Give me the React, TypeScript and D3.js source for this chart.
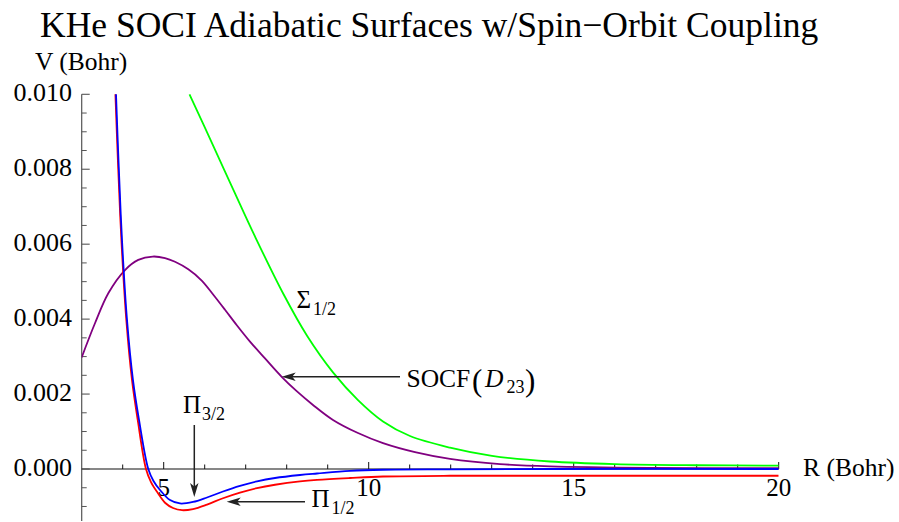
import React from "react";
import * as d3 from "d3";

// ---- data ----
const R_PI32 = [3.837, 3.898, 3.983, 4.105, 4.251, 4.398, 4.624, 4.751, 4.91, 5.154, 5.398, 5.715, 6.056, 6.446, 6.861, 7.276, 7.715, 8.324, 8.739, 9.544, 10.349, 11.983, 14.422, 20];
const V_PI32 = [0.0100, 0.00822, 0.00611, 0.00398, 0.00237, 0.00131, 0.0, -0.00032, -0.00056, -0.00083, -0.00092, -0.00088, -0.00076, -0.00060, -0.00045, -0.00033, -0.00024, -0.00016, -0.00012, -0.00005, -0.00002, -0.00001, 0.0, 0.0];

const R_PI12 = [3.822, 3.883, 3.968, 4.088, 4.227, 4.366, 4.568, 4.69, 4.849, 5.032, 5.227, 5.446, 5.715, 6.056, 6.446, 6.861, 7.276, 7.715, 8.324, 8.739, 9.544, 10.349, 11.983, 14.422, 20];
const V_PI12 = [0.0100, 0.00822, 0.00611, 0.00398, 0.00237, 0.00131, 0.0, -0.00035, -0.00063, -0.00090, -0.00104, -0.00110, -0.00107, -0.00095, -0.00078, -0.00063, -0.00051, -0.00042, -0.00033, -0.00029, -0.00024, -0.00020, -0.00018, -0.00018, -0.00018];

const R_SIG12 = [5.629, 6.22, 6.7, 7.229, 7.92, 8.5, 9.129, 9.739, 10.349, 11.007, 11.983, 13.007, 14.422, 16.007, 18.007, 20];
const V_SIG12 = [0.0100, 0.0086, 0.00745, 0.0062, 0.00467, 0.00355, 0.00258, 0.00184, 0.00127, 0.00088, 0.00057, 0.00035, 0.0002, 0.00013, 0.0001, 0.00009];

const R_SOCF = [3.0, 3.324, 3.649, 4.056, 4.38, 4.732, 5.032, 5.276, 5.6, 5.927, 6.21, 6.495, 6.788, 7.105, 7.471, 7.878, 8.251, 8.641, 9.129, 9.739, 10.349, 11.129, 11.983, 13.202, 14.422, 16.861, 20];
const V_SOCF = [0.00298, 0.00389, 0.00469, 0.00531, 0.00558, 0.00567, 0.00563, 0.00553, 0.00533, 0.00503, 0.00465, 0.00425, 0.00383, 0.0034, 0.00295, 0.00246, 0.00207, 0.00171, 0.00131, 0.00096, 0.00069, 0.00045, 0.00027, 0.00013, 0.00007, 0.00003, 0.00002];

const X_MAJOR = [5, 10, 15, 20];
const X_MINOR = [4, 6, 7, 8, 9, 11, 12, 13, 14, 16, 17, 18, 19];
const Y_MAJOR = [0, 0.002, 0.004, 0.006, 0.008, 0.010];
const Y_MINOR = [-0.001, -0.0005, 0.0005, 0.001, 0.0015, 0.0025, 0.003, 0.0035, 0.0045, 0.005, 0.0055, 0.0065, 0.007, 0.0075, 0.0085, 0.009, 0.0095];

const TITLE = "KHe SOCI Adiabatic Surfaces w/Spin\u2212Orbit Coupling";

const W = 899;
const H = 522;
const FONT = "Liberation Serif";

function arrowHead(tx: number, ty: number, dir: "left" | "down") {
  const L = 14, hw = 4.2, n = 3.5;
  if (dir === "left") {
    return `M${tx},${ty} L${tx + L},${ty - hw} L${tx + L - n},${ty} L${tx + L},${ty + hw} Z`;
  }
  return `M${tx},${ty} L${tx - hw},${ty - L} L${tx},${ty - L + n} L${tx + hw},${ty - L} Z`;
}

export default function App() {
  const x = d3.scaleLinear().domain([3, 20]).range([81.7, 778.7]);
  const y = d3.scaleLinear().domain([0, 0.01]).range([469, 94.3]);

  const line = d3
    .line<[number, number]>()
    .x((d) => x(d[0]))
    .y((d) => y(d[1]))
    .curve(d3.curveCatmullRom.alpha(0.5));

  const zip = (a: number[], b: number[]) => a.map((v, i) => [v, b[i]] as [number, number]);

  const series = [
    { r: R_SOCF, v: V_SOCF, color: "#800080" },
    { r: R_SIG12, v: V_SIG12, color: "#00ff00" },
    { r: R_PI12, v: V_PI12, color: "#ff0000" },
    { r: R_PI32, v: V_PI32, color: "#0000ff" },
  ];

  const axisX = x(3);
  const axisY = y(0);
  const yBottom = y(-0.00139);
  const txt = { fontFamily: FONT };

  return (
    <svg
      width={W}
      height={H}
      style={{ position: "absolute", left: 0, top: 0, background: "#fff", fontFamily: FONT }}
    >
      <defs>
        <clipPath id="plotclip">
          <rect x={x(3)} y={y(0.01) - 1} width={x(20) - x(3)} height={yBottom - y(0.01) + 1} />
        </clipPath>
      </defs>
      <rect x={0} y={0} width={W} height={H} fill="#fff" />

      {/* title */}
      <text x={40} y={37} fontSize={35.5} fill="#000" style={txt}>
        {TITLE}
      </text>

      {/* axes */}
      <line x1={axisX} x2={axisX} y1={y(0.01)} y2={yBottom} stroke="#555" strokeWidth={1.2} />
      <line x1={axisX} x2={x(20)} y1={axisY} y2={axisY} stroke="#111" strokeWidth={1.2} />

      {Y_MAJOR.map((t) => (
        <g key={"ym" + t}>
          <line x1={axisX} x2={axisX + 8} y1={y(t)} y2={y(t)} stroke="#555" strokeWidth={1.1} />
          <text x={72} y={y(t) + 6.5} fontSize={26} textAnchor="end" fill="#000" style={txt}>
            {d3.format(".3f")(t)}
          </text>
        </g>
      ))}
      {Y_MINOR.map((t) => (
        <line key={"yn" + t} x1={axisX} x2={axisX + 5} y1={y(t)} y2={y(t)} stroke="#555" strokeWidth={1} />
      ))}
      {X_MAJOR.map((t) => (
        <g key={"xm" + t}>
          <line x1={x(t)} x2={x(t)} y1={axisY} y2={axisY - 7} stroke="#111" strokeWidth={1} />
          <text x={x(t)} y={495.5} fontSize={25} textAnchor="middle" fill="#000" style={txt}>
            {t}
          </text>
        </g>
      ))}
      {X_MINOR.map((t) => (
        <line key={"xn" + t} x1={x(t)} x2={x(t)} y1={axisY} y2={axisY - 4.5} stroke="#111" strokeWidth={1} />
      ))}

      <text x={35} y={70} fontSize={25.5} fill="#000" style={txt}>V (Bohr)</text>
      <text x={803} y={476} fontSize={25.5} fill="#000" style={txt}>R (Bohr)</text>

      {/* curves */}
      <g clipPath="url(#plotclip)">
        {series.map((s, i) => (
          <path key={i} d={line(zip(s.r, s.v)) || ""} fill="none" stroke={s.color} strokeWidth={1.8} />
        ))}
      </g>

      {/* annotations */}
      <g stroke="#222" fill="#222">
        <line x1={400} x2={290} y1={376.7} y2={376.7} strokeWidth={1.5} />
        <path d={arrowHead(281.7, 376.7, "left")} stroke="none" />
        <line x1={194.3} x2={194.3} y1={425} y2={488} strokeWidth={1.5} />
        <path d={arrowHead(194.3, 497, "down")} stroke="none" />
        <line x1={305} x2={235} y1={501.7} y2={501.7} strokeWidth={1.5} />
        <path d={arrowHead(226.7, 501.7, "left")} stroke="none" />
      </g>

      <text fontSize={25} fill="#000" style={txt}>
        <tspan x={296.5} y={308}>Σ</tspan>
        <tspan x={313} y={315} fontSize={18}>1/2</tspan>
      </text>
      <text fontSize={25} fill="#000" style={txt}>
        <tspan x={183} y={413}>Π</tspan>
        <tspan x={202} y={420} fontSize={18}>3/2</tspan>
      </text>
      <text fontSize={25} fill="#000" style={txt}>
        <tspan x={311.5} y={506.7}>Π</tspan>
        <tspan x={331.5} y={513.5} fontSize={18}>1/2</tspan>
      </text>
      <text fontSize={25.5} fill="#000" style={txt}>
        <tspan x={406.5} y={387}>SOCF</tspan>
        <tspan x={472} y={391} fontSize={31}>(</tspan>
        <tspan x={485} y={387} fontStyle="italic">D</tspan>
        <tspan x={506.5} y={393} fontSize={18}>23</tspan>
        <tspan x={525} y={391} fontSize={31}>)</tspan>
      </text>
    </svg>
  );
}
